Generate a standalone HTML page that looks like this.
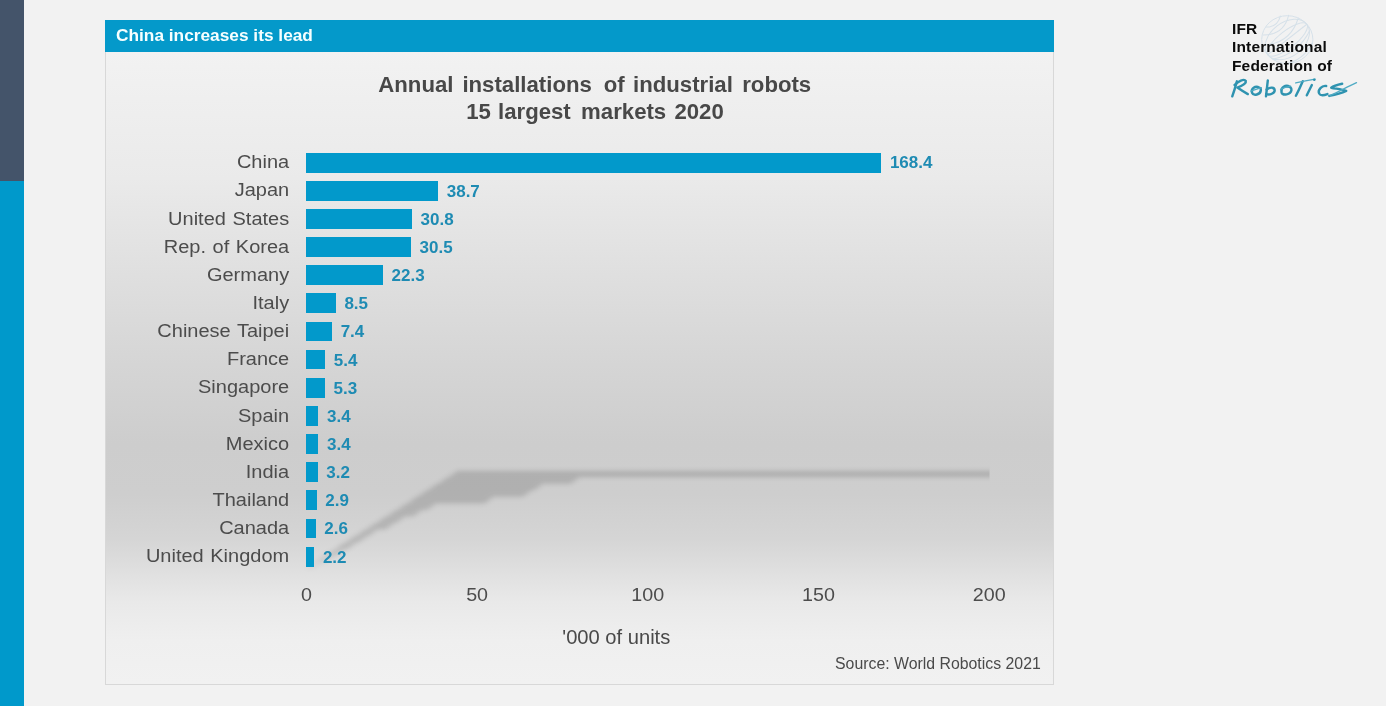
<!DOCTYPE html>
<html><head><meta charset="utf-8"><title>China increases its lead</title>
<style>
html,body{margin:0;padding:0}
body{width:1386px;height:706px;position:relative;overflow:hidden;background:#f2f2f2;font-family:"Liberation Sans",sans-serif;}
.abs{position:absolute}
#txt{position:absolute;left:0;top:0;width:1386px;height:706px;will-change:transform}
#sb1{position:absolute;left:0;top:0;width:24px;height:182px;background:#44546a}
#sb2{position:absolute;left:0;top:181.2px;width:24px;height:525px;background:#0099cb}
#panel{position:absolute;left:105px;top:52px;width:947px;height:632.3px;border:1px solid #d8d8d8;border-top:none;box-sizing:content-box;
background:linear-gradient(to bottom,#f2f2f2 0%,#eaeaea 20%,#d6d6d6 48%,#cdcdcd 62%,#cecece 70%,#d5d5d5 77%,#e2e2e2 83.5%,#e9e9e9 87%,#efefef 93%,#f1f1f1 100%);}
#hdr{position:absolute;left:105px;top:20.3px;width:949px;height:31.6px;background:#0499ca;color:#f6ffff;font-weight:bold;font-size:17.3px;line-height:32px;}
#hdr span{position:absolute;left:11.0px;top:-1.1px;white-space:pre;will-change:transform}
.tw{position:absolute;font-weight:bold;font-size:22.2px;line-height:28px;color:#484848;white-space:pre}
.bar{position:absolute;left:306.0px;height:19.8px;background:#0299cb}
.lab{position:absolute;left:0;width:289.2px;text-align:right;font-size:20px;line-height:28px;color:#4c4c4c;white-space:pre;word-spacing:1.0px;transform:scaleY(0.955);transform-origin:100% 20.6px}
.val{position:absolute;font-size:17px;font-weight:bold;line-height:24px;color:#1e8bb3;white-space:pre}
.tick{position:absolute;top:579.5px;width:80px;text-align:center;font-size:19.7px;line-height:28px;color:#4c4c4c;transform:scaleY(0.96);transform-origin:50% 20.5px}
#units{position:absolute;left:516.3px;width:200px;top:622.5px;text-align:center;font-size:20.15px;line-height:28px;color:#494949;white-space:pre}
#src{position:absolute;left:740px;width:300.8px;top:652.5px;text-align:right;font-size:15.85px;line-height:22px;color:#4a4a4a;white-space:pre}
.lg{position:absolute;left:1232.2px;font-weight:bold;font-size:15.5px;line-height:18px;color:#0c0c0c;white-space:pre;letter-spacing:0.15px;will-change:transform}
</style></head><body>
<div id="sb1"></div><div id="sb2"></div>
<div id="panel"></div>
<div id="hdr"><span>China increases its lead</span></div>
<svg class="abs" style="left:0;top:0" width="1386" height="706" viewBox="0 0 1386 706">
<defs><filter id="bl" x="-5%" y="-20%" width="110%" height="140%"><feGaussianBlur stdDeviation="2.4"/></filter></defs>
<clipPath id="cp"><rect x="106" y="400" width="883.5" height="200"/></clipPath>
<g clip-path="url(#cp)"><g fill="#000" fill-opacity="0.155" filter="url(#bl)">
<polygon opacity="1" points="457.8,471.0 1032.8,471.0 1023.3,477.1 448.3,477.1"/>
<polygon opacity="1" points="447.6,477.6 579.7,477.6 570.2,483.6 438.1,483.6"/>
<polygon opacity="1" points="437.3,484.1 543.2,484.1 533.8,490.1 427.8,490.1"/>
<polygon opacity="1" points="427.0,490.6 531.9,490.6 522.5,496.6 417.5,496.6"/>
<polygon opacity="1" points="416.7,497.1 493.7,497.1 484.2,503.2 407.3,503.2"/>
<polygon opacity="1" points="406.5,503.7 436.3,503.7 426.8,509.7 397.0,509.7"/>
<polygon opacity="1" points="396.2,510.2 422.3,510.2 412.8,516.2 386.7,516.2"/>
<polygon opacity="1" points="385.9,516.7 405.2,516.7 395.7,522.8 376.4,522.8"/>
<polygon opacity="1" points="375.6,523.3 394.5,523.3 385.0,529.3 366.2,529.3"/>
<polygon opacity="1" points="365.4,529.8 377.8,529.8 368.3,535.8 355.9,535.8"/>
<polygon opacity="1" points="355.1,536.3 367.5,536.3 358.0,542.3 345.6,542.3"/>
<polygon opacity="1" points="344.8,542.8 356.5,542.8 347.1,548.9 335.3,548.9"/>
<polygon opacity="0.8" points="334.5,549.4 345.2,549.4 335.8,555.4 325.1,555.4"/>
<polygon opacity="0.55" points="324.3,555.9 333.9,555.9 324.5,561.9 314.8,561.9"/>
<polygon opacity="0.25" points="314.0,562.4 322.3,562.4 312.8,568.5 304.5,568.5"/>
</g></g>
</svg>
<div id="txt">
<span class="tw" style="left:378.3px;top:70.9px">Annual</span><span class="tw" style="left:462.4px;top:70.9px">installations</span><span class="tw" style="left:603.8px;top:70.9px">of</span><span class="tw" style="left:633.0px;top:70.9px">industrial</span><span class="tw" style="left:742.2px;top:70.9px">robots</span><span class="tw" style="left:466.2px;top:97.7px">15</span><span class="tw" style="left:498.0px;top:97.7px">largest</span><span class="tw" style="left:581.1px;top:97.7px">markets</span><span class="tw" style="left:674.4px;top:97.7px">2020</span>

<div class="lab" style="top:147.20px">China</div>
<div class="lab" style="top:175.35px">Japan</div>
<div class="lab" style="top:203.50px">United States</div>
<div class="lab" style="top:231.65px">Rep. of Korea</div>
<div class="lab" style="top:259.80px">Germany</div>
<div class="lab" style="top:287.95px">Italy</div>
<div class="lab" style="top:316.10px">Chinese Taipei</div>
<div class="lab" style="top:344.25px">France</div>
<div class="lab" style="top:372.40px">Singapore</div>
<div class="lab" style="top:400.55px">Spain</div>
<div class="lab" style="top:428.70px">Mexico</div>
<div class="lab" style="top:456.85px">India</div>
<div class="lab" style="top:485.00px">Thailand</div>
<div class="lab" style="top:513.15px">Canada</div>
<div class="lab" style="top:541.30px">United Kingdom</div>

<div class="bar" style="top:152.60px;width:574.92px;height:20.2px;margin-top:0.2px"></div>
<div class="bar" style="top:180.75px;width:132.12px"></div>
<div class="bar" style="top:208.90px;width:105.95px"></div>
<div class="bar" style="top:237.05px;width:104.93px"></div>
<div class="bar" style="top:265.20px;width:76.93px"></div>
<div class="bar" style="top:293.35px;width:29.82px"></div>
<div class="bar" style="top:321.50px;width:26.06px"></div>
<div class="bar" style="top:349.65px;width:19.24px"></div>
<div class="bar" style="top:377.80px;width:18.89px"></div>
<div class="bar" style="top:405.95px;width:12.41px"></div>
<div class="bar" style="top:434.10px;width:12.41px"></div>
<div class="bar" style="top:462.25px;width:11.72px"></div>
<div class="bar" style="top:490.40px;width:10.70px"></div>
<div class="bar" style="top:518.55px;width:9.68px"></div>
<div class="bar" style="top:546.70px;width:8.31px;height:20.8px"></div>

<div class="val" style="top:150.50px;left:889.92px">168.4</div>
<div class="val" style="top:179.65px;left:446.72px">38.7</div>
<div class="val" style="top:207.80px;left:420.55px">30.8</div>
<div class="val" style="top:235.95px;left:419.53px">30.5</div>
<div class="val" style="top:264.10px;left:391.53px">22.3</div>
<div class="val" style="top:292.25px;left:344.42px">8.5</div>
<div class="val" style="top:320.40px;left:340.66px">7.4</div>
<div class="val" style="top:348.55px;left:333.84px">5.4</div>
<div class="val" style="top:376.70px;left:333.49px">5.3</div>
<div class="val" style="top:404.85px;left:327.01px">3.4</div>
<div class="val" style="top:433.00px;left:327.01px">3.4</div>
<div class="val" style="top:461.15px;left:326.32px">3.2</div>
<div class="val" style="top:489.30px;left:325.30px">2.9</div>
<div class="val" style="top:517.45px;left:324.28px">2.6</div>
<div class="val" style="top:545.60px;left:322.91px">2.2</div>

<div class="tick" style="left:266.40px">0</div>
<div class="tick" style="left:437.10px">50</div>
<div class="tick" style="left:607.80px">100</div>
<div class="tick" style="left:778.50px">150</div>
<div class="tick" style="left:949.20px">200</div>

<div id="units">'000 of units</div>
<div id="src">Source: World Robotics 2021</div>
</div>
<svg class="abs" style="left:0;top:0" width="1386" height="706" viewBox="0 0 1386 706">
<g fill="none" stroke="#d3dfe8" stroke-width="1" opacity="0.9">
<ellipse cx="1287.3" cy="39.6" rx="25.6" ry="23.9"/>
<g transform="rotate(-38 1287.3 39.5)">
<ellipse cx="1287.3" cy="39.5" rx="24.8" ry="8.5"/>
<ellipse cx="1287.3" cy="39.5" rx="24.8" ry="17"/>
<line x1="1262.5" y1="39.5" x2="1312.1" y2="39.5"/>
<path d="M1278,16.5 Q1287.3,24 1296.6,16.5 M1271,21 Q1287.3,34 1303.6,21 M1265,29 Q1287.3,45 1309.6,29 M1263.5,46 Q1287.3,58 1311,46 M1270,57.5 Q1287.3,66 1304.6,57.5"/>
</g>
</g>
<g transform="translate(1226 66) scale(0.10101)" fill="none" stroke-linecap="round" stroke-linejoin="round">
<g stroke="#2f93b0" stroke-width="24">
<path d="M108,152 C95,200 80,250 62,300"/>
<path d="M84,188 C120,150 180,122 196,148 C204,176 150,200 112,214 C150,240 185,262 216,278"/>
<path d="M330,215 C290,190 245,225 258,265 C272,300 340,285 345,240 C347,222 335,212 318,212"/>
<path d="M414,142 C408,195 402,250 396,300"/>
<path d="M402,232 C440,205 480,210 482,240 C482,270 435,290 398,278"/>
<path d="M630,205 C590,180 540,215 550,260 C562,298 640,285 648,238 C650,215 630,198 606,204"/>
<path d="M760,150 C738,200 715,250 692,294"/>
<path d="M850,188 C833,222 816,256 800,290"/>
<path d="M992,198 C950,190 905,235 922,272 C935,296 975,290 1004,278"/>
<path d="M1150,176 C1105,185 1060,200 1042,215 C1090,225 1150,232 1190,246 C1140,270 1080,285 1022,296"/>
</g>
<g stroke="#4fabc4" stroke-width="13">
<path d="M246,248 C280,236 315,224 350,214"/>
<path d="M690,168 C750,155 815,142 882,130"/>
<path d="M540,232 C570,215 600,205 640,200"/>
<path d="M1030,292 C1120,250 1205,205 1292,165"/>
</g>
<circle cx="874" cy="136" r="13" fill="#2d94b1" stroke="none"/>
</g>
</svg>
<div class="lg" style="top:19.5px">IFR</div>
<div class="lg" style="top:38.1px">International</div>
<div class="lg" style="top:56.7px">Federation of</div>

</body></html>
